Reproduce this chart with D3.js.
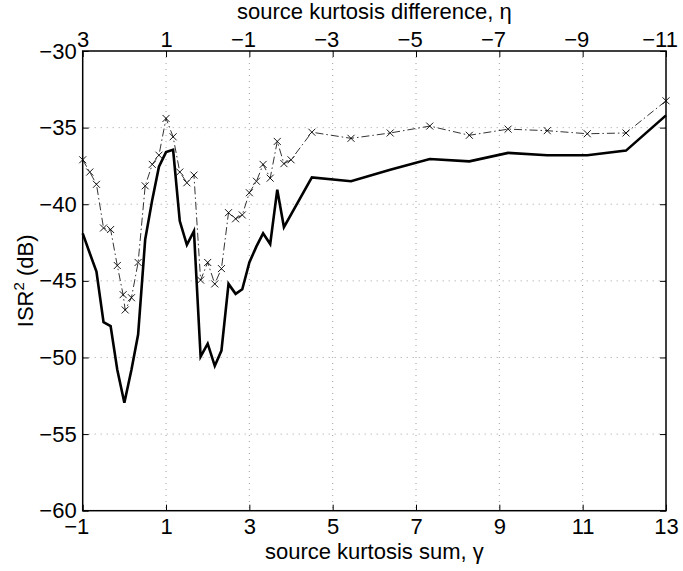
<!DOCTYPE html>
<html>
<head>
<meta charset="utf-8">
<script src="https://cdn.jsdelivr.net/npm/d3@7"></script>
<style>
  body { margin: 0; background: #fff; }
  text { font-family: "Liberation Sans", Arial, sans-serif; fill: #000; }
</style>
</head>
<body>
<div id="chart"></div>
<script>
// solid curve: ISR^2 vs source kurtosis sum
const gammaSolid = [-1, -0.83, -0.67, -0.5, -0.33, -0.17, 0, 0.17, 0.33, 0.5, 0.67, 0.83, 1, 1.17,
  1.33, 1.5, 1.67, 1.83, 2, 2.17, 2.33, 2.5, 2.67, 2.83, 3, 3.17, 3.33, 3.5, 3.67, 3.83,
  4.5, 5.44, 6.38, 7.33, 8.28, 9.21, 10.15, 11.11, 12.04, 13]
const isrSolid = [-41.9, -43.2, -44.4, -47.7, -47.95, -50.8, -52.95, -50.8, -48.5, -42.3, -39.7, -37.55, -36.6, -36.45,
  -41.1, -42.65, -41.75, -49.95, -49.1, -50.55, -49.55, -45.2, -45.85, -45.55, -43.8, -42.75, -41.9, -42.6, -39.05, -41.5,
  -38.25, -38.5, -37.75, -37.05, -37.2, -36.65, -36.8, -36.8, -36.5, -34.2]

// dash-dot curve with x markers
const gammaDash = [-1, -0.83, -0.67, -0.5, -0.33, -0.17, -0.03, 0.02, 0.17, 0.33, 0.5, 0.67, 0.83, 1, 1.17,
  1.33, 1.5, 1.67, 1.83, 2, 2.17, 2.33, 2.5, 2.67, 2.83, 3, 3.17, 3.33, 3.5, 3.67, 3.83, 4,
  4.5, 5.44, 6.38, 7.33, 8.28, 9.21, 10.15, 11.11, 12.04, 13]
const isrDash = [-37.1, -37.9, -38.7, -41.55, -41.65, -44.0, -45.9, -46.9, -46.1, -43.8, -38.8, -37.4, -36.8, -34.4, -35.6,
  -37.9, -38.6, -38.1, -44.95, -43.8, -45.2, -44.2, -40.55, -40.95, -40.7, -39.25, -38.5, -37.4, -38.3, -35.9, -37.35, -37.1,
  -35.3, -35.7, -35.35, -34.9, -35.5, -35.1, -35.2, -35.4, -35.35, -33.25]

const xTicks = [-1, 1, 3, 5, 7, 9, 11, 13]
const etaTicks = [3, 1, -1, -3, -5, -7, -9, -11]
const yTicks = [-60, -55, -50, -45, -40, -35, -30]

const W = 683, H = 571
const margin = {top: 51, right: 17, bottom: 60.3, left: 82.7},
  width = W - margin.left - margin.right,
  height = H - margin.top - margin.bottom

const svg = d3.select("#chart")
  .append("svg")
    .attr("width", W)
    .attr("height", H)
  .append("g")
    .attr("transform", `translate(${margin.left},${margin.top})`)

const x = d3.scaleLinear().domain([-1, 13]).range([0, width])
const eta = d3.scaleLinear().domain([3, -11]).range([0, width])
const y = d3.scaleLinear().domain([-60, -30]).range([height, 0])

// dotted grid
svg.append("g")
  .selectAll("line")
  .data(xTicks.slice(1, -1))
  .join("line")
    .attr("x1", d => x(d)).attr("x2", d => x(d))
    .attr("y1", 0).attr("y2", height)
    .attr("stroke", "#888").attr("stroke-width", 0.8)
    .attr("stroke-dasharray", "1,5")
svg.append("g")
  .selectAll("line")
  .data(yTicks.slice(1, -1))
  .join("line")
    .attr("x1", 0).attr("x2", width)
    .attr("y1", d => y(d)).attr("y2", d => y(d))
    .attr("stroke", "#888").attr("stroke-width", 0.8)
    .attr("stroke-dasharray", "1,5")

const fmt = d => d < 0 ? "\u2212" + Math.abs(d) : "" + d

// axes, matlab style: ticks inside, labels outside
function styleAxis(g) {
  g.select(".domain").remove()
  g.selectAll(".tick line").attr("stroke", "#000").attr("stroke-width", 1)
  g.selectAll(".tick text")
    .style("font-family", "Liberation Sans, Arial, sans-serif")
    .style("font-size", "22px")
}
// horizontal axes: digits centred on the tick, minus hangs to the left
function hangMinus(g) {
  g.selectAll(".tick text").attr("dx", d => d < 0 ? -6.4 : 0)
}

svg.append("g")
  .attr("transform", `translate(0,${height})`)
  .call(d3.axisBottom(x).tickValues(xTicks).tickFormat(fmt).tickSizeInner(-6).tickPadding(8))
  .call(styleAxis)
  .call(hangMinus)

svg.append("g")
  .call(d3.axisTop(eta).tickValues(etaTicks).tickFormat(fmt).tickSizeInner(-6).tickPadding(4))
  .call(styleAxis)
  .call(hangMinus)

svg.append("g")
  .call(d3.axisLeft(y).tickValues(yTicks).tickFormat(fmt).tickSizeInner(-6).tickPadding(6))
  .call(styleAxis)

svg.append("g")
  .attr("transform", `translate(${width},0)`)
  .call(d3.axisRight(y).tickValues(yTicks).tickFormat("").tickSizeInner(-6))
  .call(styleAxis)

// frame
svg.append("rect")
  .attr("width", width).attr("height", height)
  .attr("fill", "none").attr("stroke", "#000").attr("stroke-width", 1.5)

// dash-dot series
const dashPts = gammaDash.map((g, i) => [g, isrDash[i]])
svg.append("path")
  .datum(dashPts)
  .attr("fill", "none")
  .attr("stroke", "#000")
  .attr("stroke-width", 0.8)
  .attr("stroke-dasharray", "8,3,1.5,3")
  .attr("d", d3.line().x(d => x(d[0])).y(d => y(d[1])))

svg.append("g")
  .selectAll("path")
  .data(dashPts)
  .join("path")
    .attr("transform", d => `translate(${x(d[0])},${y(d[1])})`)
    .attr("d", "M-3.5,-3.5L3.5,3.5M-3.5,3.5L3.5,-3.5")
    .attr("stroke", "#000")
    .attr("stroke-width", 0.9)

// solid series
svg.append("path")
  .datum(gammaSolid.map((g, i) => [g, isrSolid[i]]))
  .attr("fill", "none")
  .attr("stroke", "#000")
  .attr("stroke-width", 2.6)
  .attr("stroke-linejoin", "miter")
  .attr("d", d3.line().x(d => x(d[0])).y(d => y(d[1])))

// axis titles
svg.append("text")
  .attr("x", width / 2).attr("y", height + 48.5)
  .attr("text-anchor", "middle")
  .style("font-size", "22px")
  .text("source kurtosis sum, \u03b3")

svg.append("text")
  .attr("x", width / 2).attr("y", -32)
  .attr("text-anchor", "middle")
  .style("font-size", "22px")
  .text("source kurtosis difference, \u03b7")

const yl = svg.append("text")
  .attr("transform", `translate(-50,${height / 2}) rotate(-90)`)
  .attr("text-anchor", "middle")
  .style("font-size", "22px")
yl.append("tspan").text("ISR")
yl.append("tspan").attr("font-size", "15px").attr("dy", -9).text("2")
yl.append("tspan").attr("dy", 9).text(" (dB)")
</script>
</body>
</html>
